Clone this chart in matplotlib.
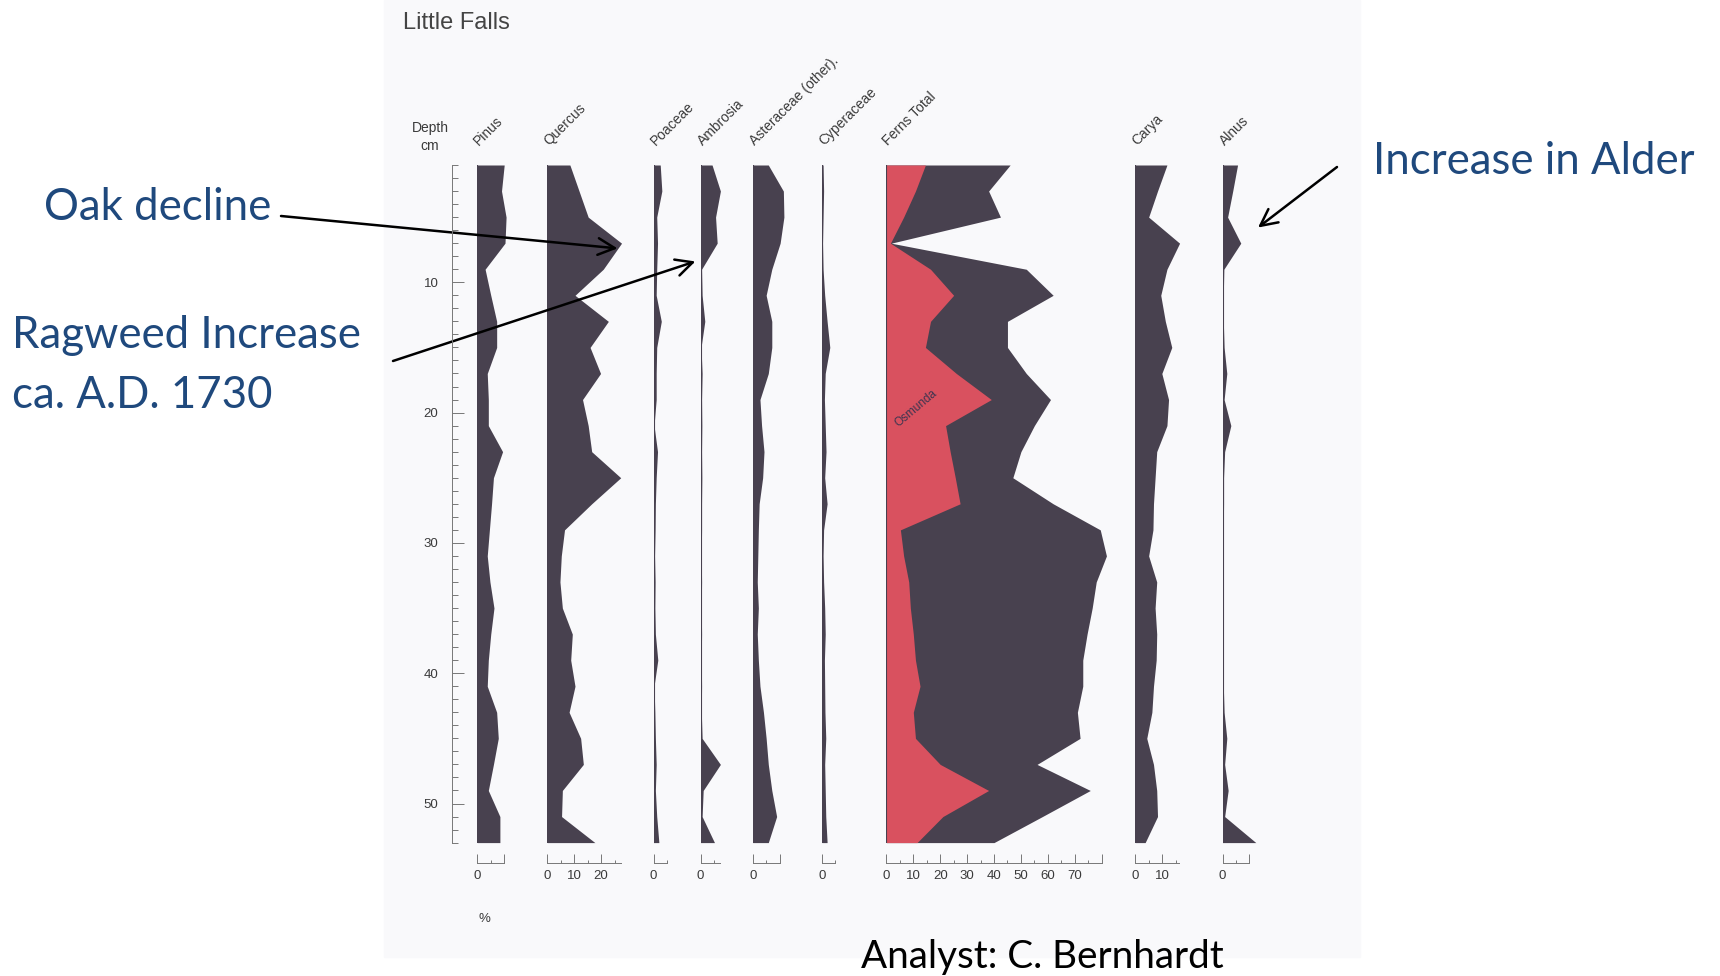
import numpy as np
import matplotlib.pyplot as plt
from matplotlib.patches import Rectangle

plt.rcParams['font.family'] = ['Liberation Sans', 'DejaVu Sans']

W, H = 1720, 976
PX_PER_PCT = 2.69          # horizontal pixels per percent, same for all panels
TOP_PX, BOT_PX = 165.0, 842.6   # rows of the 1 cm and 53 cm samples
DARK = '#48414f'
RED = '#d9515f'
BLUE = '#1f497d'
INK = '#3a3a3a'

# sample depths (cm)
depth = np.arange(1, 55, 2)

# pollen percentages per sample
pinus = [10.0, 9.0, 10.7, 10.3, 2.9, 5.0, 7.2, 7.2, 3.7, 4.1, 4.1, 9.4, 6.0, 5.3,
         4.5, 3.7, 4.7, 6.2, 5.0, 4.1, 3.7, 7.2, 7.8, 6.0, 4.1, 8.4, 8.4]
quercus = [8.4, 11.8, 15.2, 27.6, 20.8, 10.3, 22.7, 15.9, 19.8, 13.1, 15.2, 16.5, 27.3, 16.5,
           6.4, 5.2, 4.7, 5.6, 9.3, 8.7, 10.3, 8.1, 12.4, 13.4, 5.6, 5.3, 17.7]
poaceae = [2.5, 3.1, 1.2, 1.5, 1.2, 1.0, 2.9, 1.2, 1.0, 1.0, 0.2, 1.5, 1.0, 0.7,
           0.6, 0.4, 0.6, 0.5, 0.7, 1.6, 0.2, 0.5, 0.7, 1.0, 0.7, 1.2, 2.0]
ambrosia = [4.3, 7.4, 5.6, 6.2, 0.4, 0.6, 1.6, 0.2, 0.6, 0.4, 0.5, 0.4, 0.5, 0.4,
            0.4, 0.3, 0.4, 0.3, 0.4, 0.3, 0.4, 0.3, 0.6, 7.4, 1.0, 0.6, 5.2]
asteraceae = [5.8, 11.4, 11.6, 10.2, 7.1, 5.0, 7.1, 7.1, 5.8, 2.7, 3.3, 4.2, 3.7, 2.4,
              2.1, 1.9, 1.7, 2.1, 1.7, 2.1, 2.7, 4.0, 5.0, 5.8, 7.1, 8.9, 5.8]
cyperaceae = [0.4, 0.6, 0.4, 0.2, 0.4, 1.0, 1.9, 2.9, 1.2, 0.9, 1.2, 1.5, 1.0, 1.9,
              0.6, 0.4, 0.6, 1.0, 1.2, 0.9, 1.0, 1.1, 1.4, 1.0, 1.2, 1.4, 1.9]
ferns_total = [46, 38, 42.4, 1.8, 52, 62, 45, 45, 52, 61, 55, 50, 47, 62,
               79.5, 81.8, 78, 76.5, 74.6, 73, 73, 71, 72, 56, 75.8, 58, 40]
osmunda = [14.5, 10.8, 6.4, 1.5, 16.4, 25, 16.4, 14.5, 26, 39, 22, 23.7, 25.6, 27.4,
           5.2, 6.4, 8.3, 8.9, 10, 10.8, 12.5, 10, 10.8, 20, 38, 21, 11.4]
carya = [11.8, 8.3, 5.0, 16.5, 11.8, 9.5, 11.2, 13.6, 9.9, 12.4, 11.8, 8.0, 7.4, 6.8,
         6.6, 5.0, 8.0, 7.4, 8.0, 7.8, 6.8, 6.2, 4.3, 6.8, 8.0, 8.3, 3.7]
alnus = [5.6, 3.8, 1.9, 6.8, 0.5, 0.3, 0.3, 0.6, 1.6, 0.6, 3.1, 0.8, 0.4, 0.4,
         0.3, 0.3, 0.3, 0.3, 0.2, 0.2, 0.3, 0.6, 1.6, 0.8, 2.1, 0.8, 12.4]

taxa = ['Pinus', 'Quercus', 'Poaceae', 'Ambrosia', 'Asteraceae (other).',
        'Cyperaceae', 'Ferns Total', 'Carya', 'Alnus']
values = [pinus, quercus, poaceae, ambrosia, asteraceae, cyperaceae, ferns_total, carya, alnus]

# layout: left edge of each panel (px) and length of its % scale
panel_x = [477.3, 547.3, 653.5, 700.5, 752.7, 822.0, 886.4, 1135.2, 1222.5]
scale_end = [10, 27.5, 5, 7.4, 10, 5, 80, 16.2, 10]


def box(x0, width):
    return [x0 / W, 1 - BOT_PX / H, width / W, (BOT_PX - TOP_PX) / H]


fig = plt.figure(figsize=(W / 100, H / 100), dpi=100)
# scanned page behind the diagram
fig.patches.append(Rectangle((384 / W, 1 - 957 / H), (1360 - 384) / W, 957 / H,
                             transform=fig.transFigure, color='#f9f9fb', zorder=-10))

axes = {}
for name, vals, x0, send in zip(taxa, values, panel_x, scale_end):
    xmax = max(send, max(vals)) + 1
    ax = fig.add_axes(box(x0, xmax * PX_PER_PCT))
    ax.set_xlim(0, xmax)
    ax.set_ylim(53, 1)
    ax.patch.set_visible(False)
    ax.fill_betweenx(depth, 0, vals, color=DARK, lw=0)
    if name == 'Ferns Total':
        ax.fill_betweenx(depth, 0, osmunda, color=RED, lw=0)
        ax.text(11, 19.7, 'Osmunda', rotation=40, fontsize=8.5, color='#3d3550',
                ha='center', va='center')
    ax.axvline(0, color=DARK, lw=0.8)
    for s in ['top', 'right', 'left']:
        ax.spines[s].set_visible(False)
    sp = ax.spines['bottom']
    sp.set_position(('outward', 14.5))
    sp.set_bounds(0, send)
    sp.set_color('#777')
    sp.set_linewidth(0.7)
    major = np.arange(0, send + 0.01, 10)
    ax.set_xticks(major)
    ax.set_xticklabels([f'{t:g}' if t < send - 1 else '' for t in major])
    ax.set_xticks(np.arange(5, send + 0.01, 10), minor=True)
    ax.tick_params(axis='x', which='major', direction='in', length=6.5, width=0.7,
                   color='#777', labelsize=9.5, labelcolor=INK, pad=5.5)
    ax.tick_params(axis='x', which='minor', direction='in', length=2.5, width=0.7,
                   color='#777')
    ax.set_yticks([])
    fig.text((x0 + 2) / W, 1 - 146 / H, name, rotation=45, rotation_mode='anchor',
             ha='left', va='baseline', fontsize=10, color=INK)
    axes[name] = ax

# depth scale
dax = fig.add_axes(box(451.7, 20))
dax.set_ylim(53, 1)
dax.patch.set_visible(False)
for s in ['top', 'right', 'bottom']:
    dax.spines[s].set_visible(False)
dax.spines['left'].set_color('#777')
dax.spines['left'].set_linewidth(0.7)
dax.set_xticks([])
dax.set_yticks([10, 20, 30, 40, 50])
dax.set_yticks(np.arange(1, 54), minor=True)
dax.tick_params(axis='y', which='major', direction='in', length=8.3, width=0.7,
                color='#777', labelsize=9.5, labelcolor=INK, pad=9.5)
dax.tick_params(axis='y', which='minor', direction='in', length=4.5, width=0.7, color='#777')

fig.text(430 / W, 1 - 128 / H, 'Depth', ha='center', va='center', fontsize=10, color=INK)
fig.text(430 / W, 1 - 146 / H, 'cm', ha='center', va='center', fontsize=10, color=INK)
fig.text(484 / W, 1 - 919 / H, '%', ha='center', va='center', fontsize=9.5, color=INK)
fig.text(403 / W, 1 - 23 / H, 'Little Falls', ha='left', va='center', fontsize=17, color='#444')

# notes and arrows
note = dict(family=['Lato', 'DejaVu Sans'], fontsize=31.5, color=BLUE, va='center', ha='left')
fig.text(44 / W, 1 - 207 / H, 'Oak decline', **note)
fig.text(12 / W, 1 - 336 / H, 'Ragweed Increase', **note)
fig.text(12 / W, 1 - 395 / H, 'ca. A.D. 1730', **note)
fig.text(1373 / W, 1 - 161 / H, 'Increase in Alder', **note)
fig.text(861 / W, 1 - 957 / H, 'Analyst: C. Bernhardt', family=['Lato', 'DejaVu Sans'],
         fontsize=27.8, color='black', va='center', ha='left')

arrow = dict(arrowstyle='->', color='black', lw=1.8, mutation_scale=30, shrinkA=0, shrinkB=0)
axes['Quercus'].annotate('', xy=(26.1, 7.4), xytext=(281, H - 216), textcoords='figure pixels',
                         arrowprops=arrow, annotation_clip=False, zorder=5)
axes['Ambrosia'].annotate('', xy=(-1.9, 8.4), xytext=(393, H - 361), textcoords='figure pixels',
                          arrowprops=arrow, annotation_clip=False, zorder=5)
axes['Alnus'].annotate('', xy=(13.2, 5.8), xytext=(1337, H - 167), textcoords='figure pixels',
                       arrowprops=arrow, annotation_clip=False, zorder=5)

fig.savefig('out.png', dpi=100, facecolor='white')
